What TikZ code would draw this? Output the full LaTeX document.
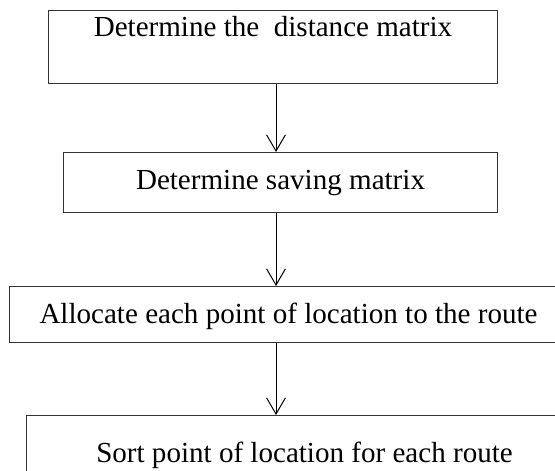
\documentclass[tikz,border=0pt]{standalone}
\usepackage{fontspec}
\setmainfont{Liberation Serif}
\usetikzlibrary{arrows.meta}

\begin{document}
\begin{tikzpicture}[x=0.75pt, y=-0.75pt,
    stepbox/.style={draw=black!80, line width=0.75pt, inner sep=0pt, anchor=north west,
      font=\fontsize{21.8}{26}\selectfont},
    flow/.style={draw, line width=0.75pt, -{Straight Barb[length=12pt, width=14pt, line cap=round]}}]
  \clip (0,0) rectangle (555,470);
  \coordinate (axis) at (276,0);

  \node [stepbox, minimum width=336.75pt, text height=19.5pt, text depth=35.25pt] (dist) at (48,10)
    {Determine the\ \ distance matrix};
  \node [stepbox, minimum width=325.5pt, text height=27.75pt, text depth=17.25pt] (saving) at (63,152)
    {Determine saving matrix};
  \node [stepbox, minimum width=418.5pt, text height=27.75pt, text depth=14.25pt] (alloc) at (9,286)
    {Allocate each point of location to the route};
  \node [stepbox, minimum width=417pt, text height=35.25pt, text depth=15pt] (sort) at (26,415)
    {Sort point of location for each route};

  \draw [flow] (dist.south -| axis) -- (saving.north -| axis);
  \draw [flow] (saving.south -| axis) -- (alloc.north -| axis);
  \draw [flow] (alloc.south -| axis) -- (sort.north -| axis);
\end{tikzpicture}
\end{document}
